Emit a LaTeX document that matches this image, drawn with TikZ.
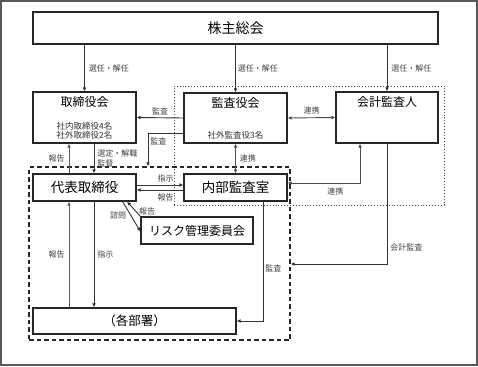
\documentclass[tikz,border=0pt]{standalone}
\usepackage{fontspec}
\setmainfont{Noto Sans CJK JP}
\usetikzlibrary{positioning, arrows.meta}

\begin{document}
\begin{tikzpicture}[
    x=1pt, y=-1pt,
    >={Latex[length=4pt,width=3.6pt]},
    box/.style={
      draw=black!85,
      line width=1.1pt,
      fill=white,
      inner sep=0pt,
      font=\fontsize{12}{14}\selectfont,
    },
    title/.style={
      inner sep=0pt,
      font=\fontsize{12}{14}\selectfont,
    },
    sub/.style={
      inner sep=0pt,
      align=center,
      text=black!80,
      font=\fontsize{8.5}{9.5}\selectfont,
    },
    lbl/.style={
      inner sep=1pt,
      align=left,
      text=black!75,
      font=\fontsize{8}{9.5}\selectfont,
    },
    arr/.style={->, line width=0.9pt, draw=black!80},
    twoway/.style={<->, line width=0.9pt, draw=black!70},
  ]

  \useasboundingbox (0,0) rectangle (478,366);
  \draw[black!65, line width=1.4pt] (1,1) rectangle (477,365);

  % --- audit area (dotted) and internal control area (dashed) ---
  \node[draw=black!70, dotted, line width=0.9pt, minimum width=270pt, minimum height=119pt] (audit) at (309,145.5) {};
  \node[draw=black!85, dashed, dash pattern=on 4.5pt off 3pt, line width=1.1pt,
        minimum width=261pt, minimum height=173pt] (ctrl) at (159.5,253.5) {};

  % --- boxes ---
  \node[box, minimum width=405pt, minimum height=32pt, font=\fontsize{14}{16}\selectfont] (kabu) at (235.5,28) {株主総会};

  \node[box, minimum width=103pt, minimum height=51pt] (tori) at (84.5,117.5) {};
  \node[title] (toriT) at ([yshift=-11pt]tori.north) {取締役会};
  \node[sub, above=4pt of tori.south] (toriS) {社内取締役4名\\社外取締役2名};

  \node[box, minimum width=103pt, minimum height=50pt] (kansa) at (235.5,118) {};
  \node[title] (kansaT) at ([yshift=-11pt]kansa.north) {監査役会};
  \node[sub, above=4pt of kansa.south] (kansaS) {社外監査役3名};

  \node[box, minimum width=102pt, minimum height=51pt] (kaikei) at (387,117.5) {};
  \node[title] (kaikeiT) at ([yshift=-11pt]kaikei.north) {会計監査人};

  \node[box, minimum width=103pt, minimum height=27pt, font=\fontsize{13.5}{15}\selectfont] (daihyo) at (84.5,187.5) {代表取締役};
  \node[box, minimum width=103pt, minimum height=27pt, font=\fontsize{13.5}{15}\selectfont] (naibu) at (235.5,187.5) {内部監査室};
  \node[box, minimum width=112pt, minimum height=27pt] (risk) at (197,230.5) {リスク管理委員会};
  \node[box, minimum width=203pt, minimum height=26pt, font=\fontsize{12.5}{14}\selectfont] (kakubu) at (134.5,321) {（各部署）};

  % --- from the shareholders ---
  \draw[arr] (kabu.south -| tori.north) -- (tori.north)
    node[midway, right=3pt, lbl] {選任・解任};
  \draw[arr] (kabu.south -| kansa.north) -- (kansa.north)
    node[midway, right=1pt, lbl] {選任・解任};
  \draw[arr] (kabu.south -| kaikei.north) -- (kaikei.north)
    node[midway, right=3pt, lbl] {選任・解任};

  % --- audit ---
  \draw[arr] (kansa.west) -- (tori.east)
    node[midway, above=1pt, lbl] {監査};
  \draw[arr] ([yshift=-15pt]kansa.west) -| ([xshift=-11.5pt]ctrl.north)
    node[pos=0.63, right=1pt, lbl] {監査};
  \draw[twoway] (kansa.east) -- (kaikei.west)
    node[midway, above=2pt, lbl] {連携};
  \draw[twoway] (kansa.south) -- (naibu.north)
    node[midway, right=3pt, lbl] {連携};
  \draw[twoway] ([yshift=4.5pt]naibu.east) -| ([xshift=-27pt]kaikei.south)
    node[pos=0.33, below=3pt, lbl] {連携};
  \draw[arr] (kaikei.south) |- ([yshift=-10.5pt]ctrl.east)
    node[pos=0.43, right=2pt, lbl] {会計監査};
  \draw[arr] ([xshift=27.5pt]naibu.south) |- (kakubu.east)
    node[pos=0.28, right=1pt, lbl] {監査};

  % --- board and representative director ---
  \draw[arr] ([xshift=9.5pt]daihyo.north |- tori.south) -- ([xshift=9.5pt]daihyo.north)
    node[midway, right=2pt, lbl] {選定・解職\\監督};
  \draw[arr, draw=black!65] ([xshift=-15.5pt]daihyo.north) -- ([xshift=-15.5pt]daihyo.north |- tori.south)
    node[midway, left=3pt, lbl] {報告};

  % --- representative director and internal audit ---
  \draw[arr] ([yshift=2.5pt]daihyo.east) -- ([yshift=2.5pt]naibu.west)
    node[pos=0.62, above=1pt, lbl] {指示};
  \draw[arr] ([yshift=-2.5pt]naibu.west) -- ([yshift=-2.5pt]daihyo.east)
    node[pos=0.38, below=2pt, lbl] {報告};

  % --- risk committee ---
  \draw[arr] ([xshift=-14pt]daihyo.south east) -- ([yshift=-1pt]risk.west)
    node[pos=0.45, left=3pt, lbl] {諮問};
  \draw[arr] (risk.north west) -- ([xshift=-9.5pt]daihyo.south east)
    node[pos=0.35, right=2pt, lbl] {報告};

  % --- departments ---
  \draw[arr, draw=black!65] ([xshift=-15.5pt]daihyo.south |- kakubu.north) -- ([xshift=-15.5pt]daihyo.south)
    node[midway, left=3pt, lbl] {報告};
  \draw[arr] ([xshift=9.5pt]daihyo.south) -- ([xshift=9.5pt]daihyo.south |- kakubu.north)
    node[midway, right=2pt, lbl] {指示};

\end{tikzpicture}
\end{document}
